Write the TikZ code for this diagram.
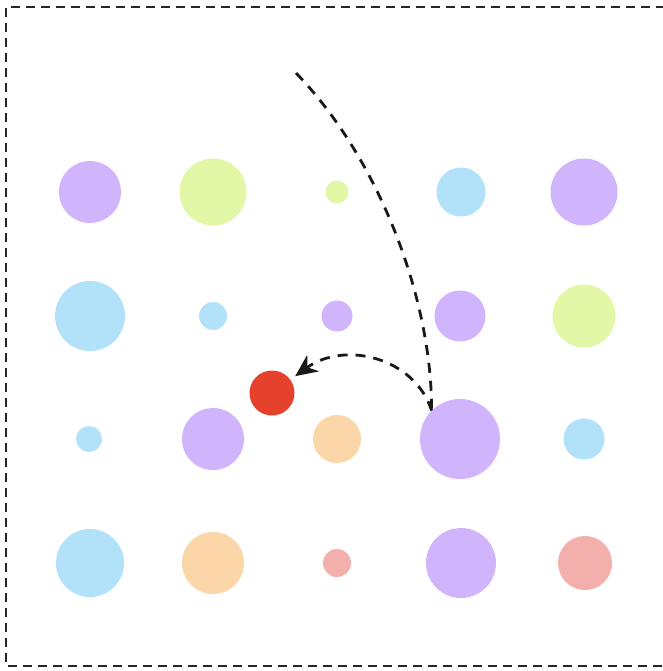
\documentclass[tikz,border=0pt]{standalone}
\usetikzlibrary{arrows.meta}
\definecolor{cpurple}{HTML}{D0B4FC}
\definecolor{cgreen}{HTML}{E2F8A6}
\definecolor{cblue}{HTML}{B2E1FA}
\definecolor{corange}{HTML}{FAD6A8}
\definecolor{cpink}{HTML}{F2AFAB}
\definecolor{cred}{HTML}{E5412D}
\begin{document}
\begin{tikzpicture}[x=1pt,y=-1pt,
  dot/.style={circle,inner sep=0pt,draw=none,fill=#1},
  frame/.style={draw=black!85,line width=2.2pt,dash pattern=on 9pt off 6pt},
  path/.style={draw=black!90,line width=2.8pt,dash pattern=on 10pt off 8pt}]
\useasboundingbox (0,0) rectangle (662,671);
\fill[white] (0,0) rectangle (662,671);
\draw[frame] (680,7) -- (6,7) -- (6,666) -- (680,666);
% row 1
\node[dot=cpurple,minimum size=62pt] (a1) at (90,192) {};
\node[dot=cgreen,minimum size=67pt] (a2) at (213,192) {};
\node[dot=cgreen,minimum size=23pt] (a3) at (337,192) {};
\node[dot=cblue,minimum size=49pt] (a4) at (461,192) {};
\node[dot=cpurple,minimum size=67pt] (a5) at (584,192) {};
% row 2
\node[dot=cblue,minimum size=70pt] (b1) at (90,316) {};
\node[dot=cblue,minimum size=28pt] (b2) at (213,316) {};
\node[dot=cpurple,minimum size=31pt] (b3) at (337,316) {};
\node[dot=cpurple,minimum size=51pt] (b4) at (460,316) {};
\node[dot=cgreen,minimum size=63pt] (b5) at (584,316) {};
% row 3
\node[dot=cblue,minimum size=26pt] (c1) at (89,439) {};
\node[dot=cpurple,minimum size=62pt] (c2) at (213,439) {};
\node[dot=corange,minimum size=48pt] (c3) at (337,439) {};
\node[dot=cpurple,minimum size=80pt] (c4) at (460,439) {};
\node[dot=cblue,minimum size=41pt] (c5) at (584,439) {};
% row 4
\node[dot=cblue,minimum size=68pt] (d1) at (90,563) {};
\node[dot=corange,minimum size=62pt] (d2) at (213,563) {};
\node[dot=cpink,minimum size=28pt] (d3) at (337,563) {};
\node[dot=cpurple,minimum size=70pt] (d4) at (461,563) {};
\node[dot=cpink,minimum size=54pt] (d5) at (585,563) {};
% red
\node[dot=cred,minimum size=45pt] (r) at (272,393) {};
% connectors
\coordinate (s) at (296,73);
\coordinate (p) at (c4.135);
\draw[path] (s) .. controls (380,160) and (432,300) .. (p);
\draw[path,-{Stealth[length=22pt,width=20pt,inset=7pt]},shorten >=6pt] (p) .. controls (415,358) and (345,340) .. (r);
\end{tikzpicture}
\end{document}
